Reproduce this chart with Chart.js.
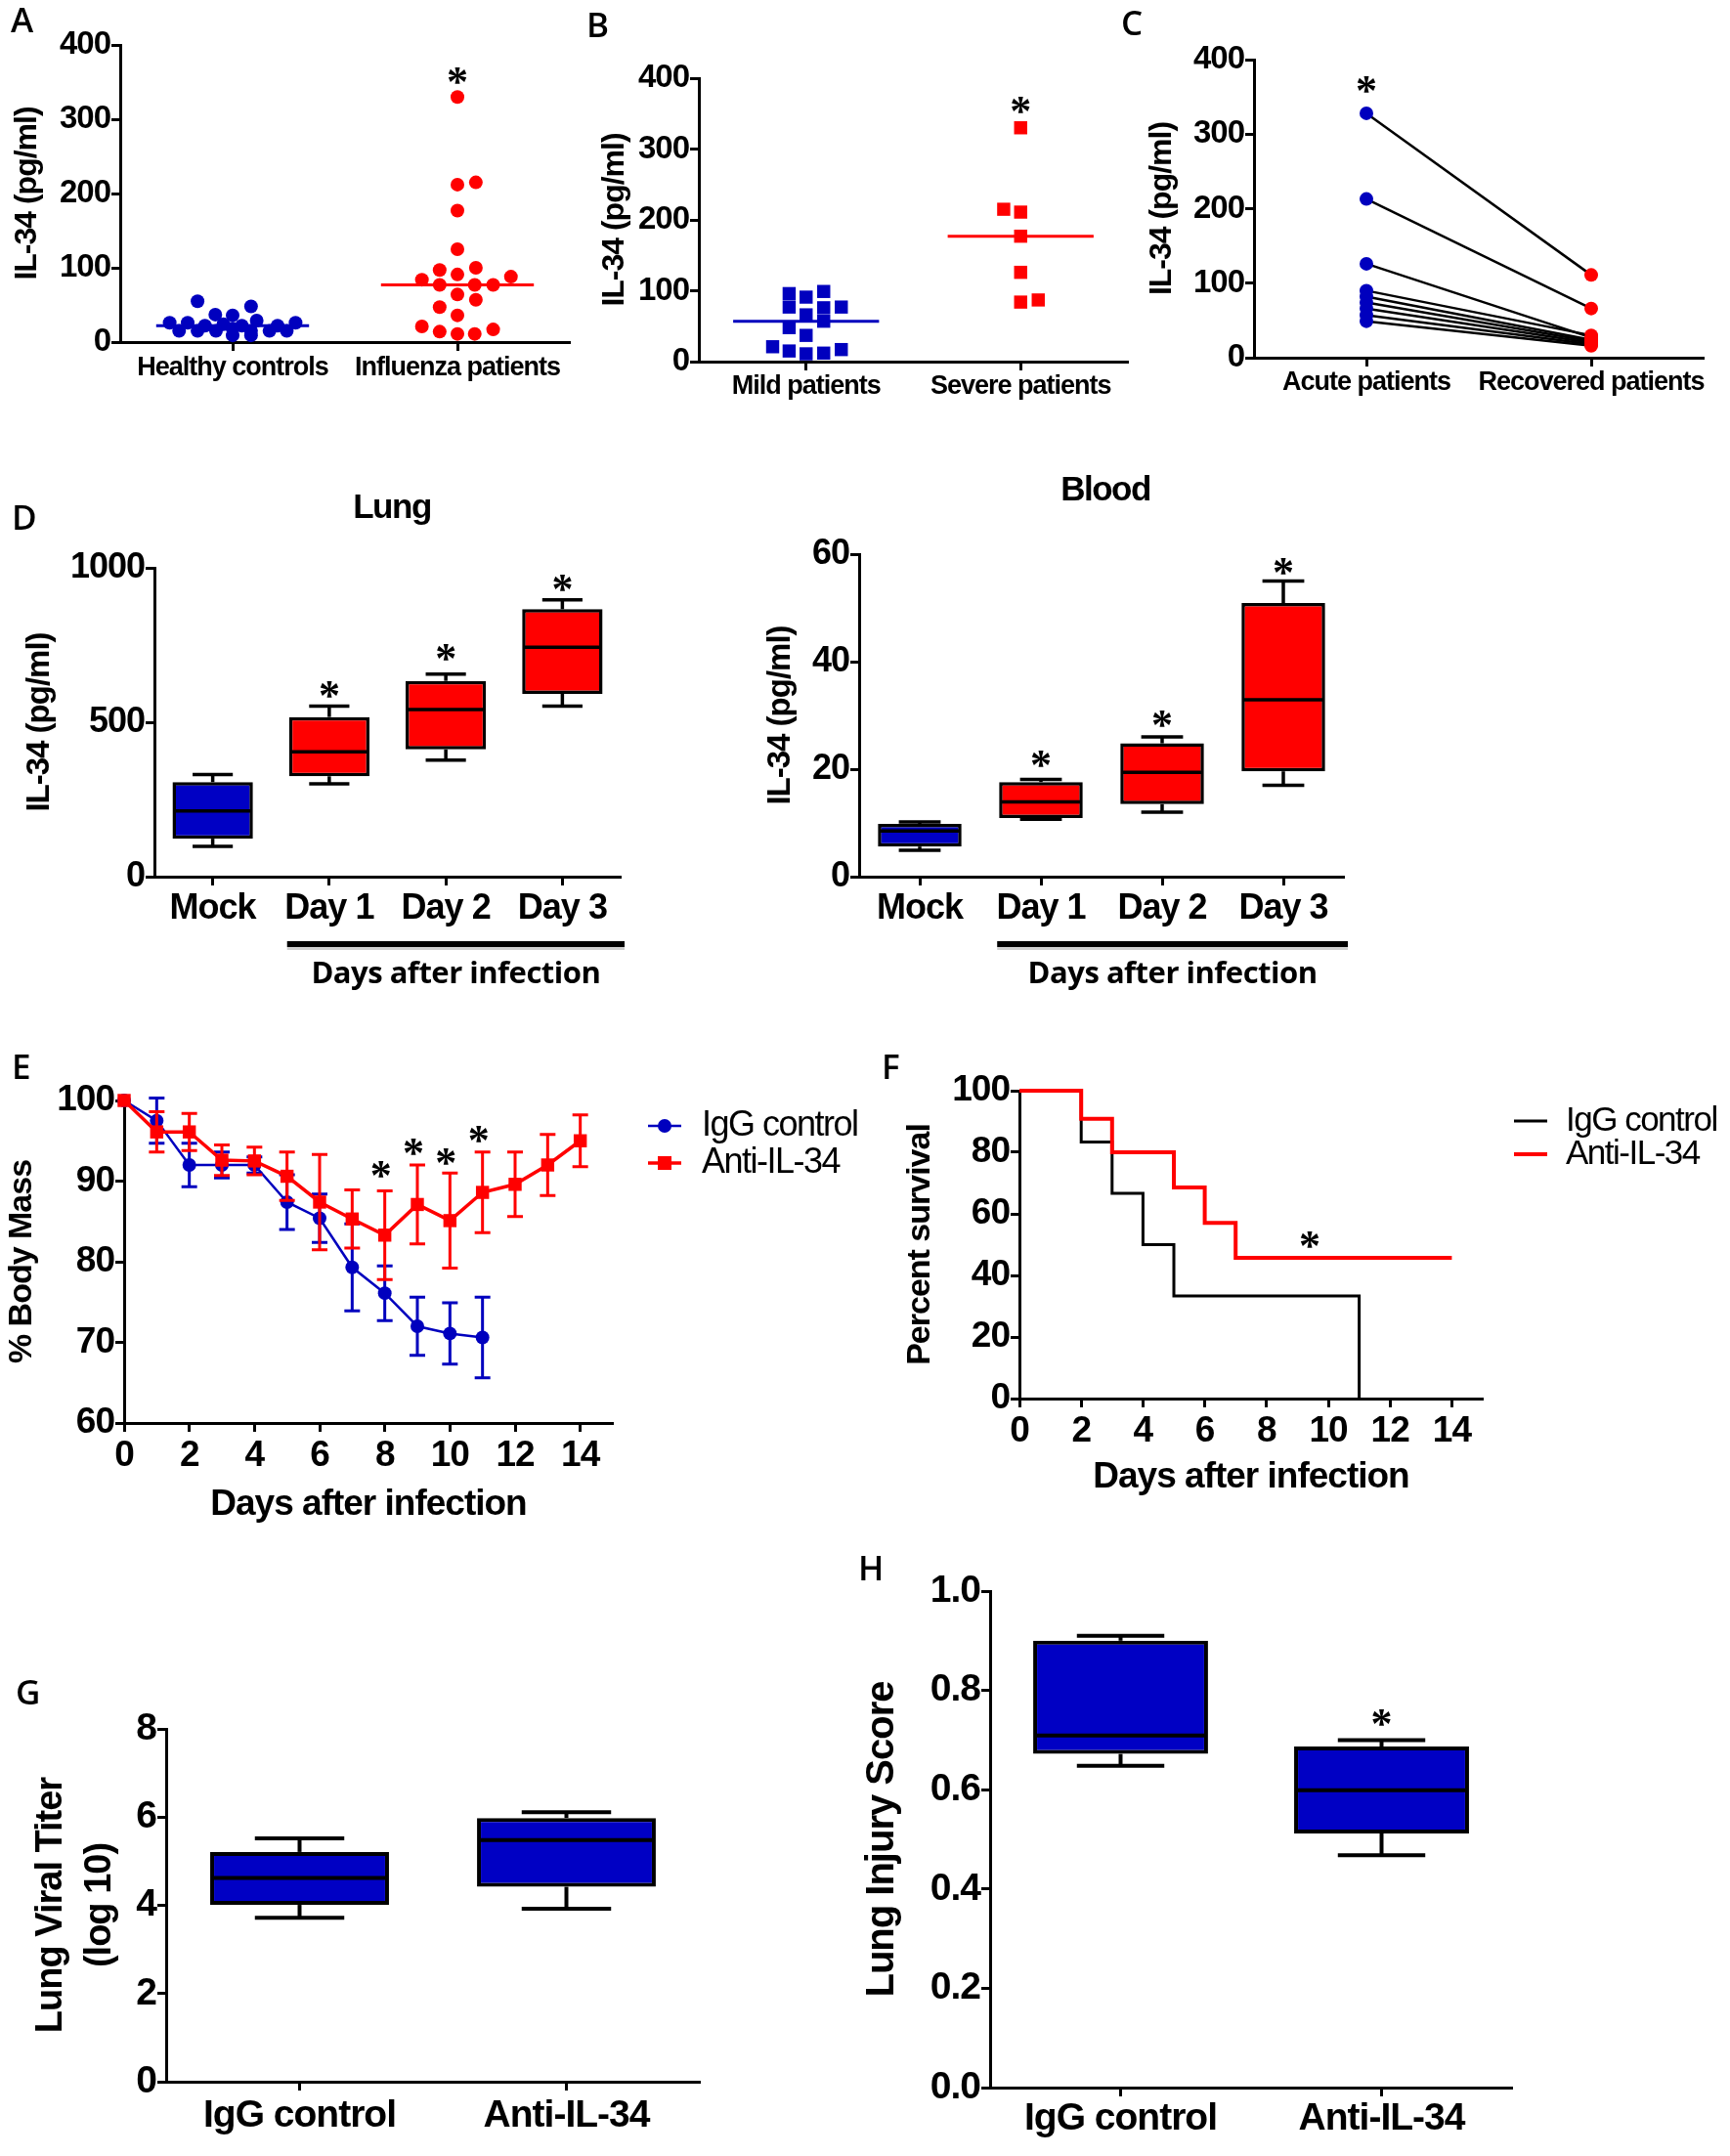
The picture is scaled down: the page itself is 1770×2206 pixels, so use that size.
<!DOCTYPE html>
<html><head><meta charset="utf-8">
<script src="https://cdn.jsdelivr.net/npm/chart.js@4.4.1/dist/chart.umd.min.js"></script>
<style>
html,body{margin:0;padding:0;background:#fff;}
body{width:1770px;height:2206px;position:relative;overflow:hidden;}
canvas{position:absolute;}
</style></head><body>
<canvas id="cA"></canvas><canvas id="cB"></canvas><canvas id="cC"></canvas>
<canvas id="cD1"></canvas><canvas id="cD2"></canvas>
<canvas id="cE"></canvas><canvas id="cF"></canvas>
<canvas id="cG"></canvas><canvas id="cH"></canvas>
<script>
// ================= DATA =================
// Panel A
const catsA = ['Healthy controls', 'Influenza patients'];
const healthyIL34 = [55, 48, 37, 36, 26, 26, 29, 26, 22, 24, 22, 22, 15, 15, 15, 18, 15, 15, 15, 9, 9];
const healthyJitter = [-0.156, 0.082, -0.077, 0, -0.28, -0.2, 0.107, 0.28, -0.123, -0.041, 0.041, 0.2, -0.238, -0.156, -0.074, 0, 0.082, 0.164, 0.241, 0, 0.082];
const influenzaIL34 = [330, 212, 215, 177, 125, 97, 91, 100, 84, 88, 77, 77, 77, 64, 57, 47, 36, 21, 14, 11, 11, 17];
const influenzaJitter = [0, 0, 0.082, 0, 0, -0.079, 0, 0.082, -0.158, 0.238, -0.079, 0.077, 0.159, 0, 0.082, -0.079, 0, -0.158, -0.079, 0, 0.077, 0.159];
const starA = [null, 358];
// Panel B
const catsB = ['Mild patients', 'Severe patients'];
const mildIL34 = [96, 91, 99, 77, 76, 77, 66, 57, 48, 37, 21, 15, 11, 12, 17];
const mildJitter = [-0.079, 0, 0.082, -0.079, 0.082, 0.164, 0, 0.082, -0.079, 0, -0.156, -0.079, 0, 0.082, 0.164];
const severeIL34 = [330, 215, 211, 177, 126, 84, 87];
const severeJitter = [0, -0.079, 0, 0, 0, 0, 0.082];
const starB = [null, 362];
// Panel C
const catsC = ['Acute patients', 'Recovered patients'];
const acuteIL34 = [328, 213, 126, 90, 82, 74, 66, 57, 49];
const recoveredIL34 = [111, 66, 27, 30, 24, 22, 20, 18, 16];
const starC = [366, null];
const ticksIL34 = [0, 100, 200, 300, 400];
// Panel D
const catsD = ['Mock', 'Day 1', 'Day 2', 'Day 3'];
const lungStats = { min: [98, 301, 377, 552], q1: [123, 325, 412, 592], med: [213, 404, 541, 743], q3: [306, 517, 634, 866], max: [331, 552, 656, 896] };
const lungStar = [null, 607, 727, 951];
const ticksLung = [0, 500, 1000];
const bloodStats = { min: [4.9, 10.7, 12.0, 17.0], q1: [5.6, 10.9, 13.5, 19.6], med: [8.5, 13.9, 19.4, 32.9], q3: [9.8, 17.6, 24.8, 50.9], max: [10.2, 18.1, 26.0, 55.0] };
const bloodStar = [null, 21.9, 29.3, 57.8];
const ticksBlood = [0, 20, 40, 60];
// Panel E
const groups = ['IgG control', 'Anti-IL-34'];
const daysIgG = [0, 1, 2, 3, 4, 5, 6, 7, 8, 9, 10, 11];
const massIgG = [100, 97.5, 92.0, 92.0, 92.0, 87.4, 85.4, 79.3, 76.1, 72.0, 71.1, 70.6];
const semIgG = [0, 2.8, 2.7, 1.6, 1.0, 3.4, 3.0, 5.4, 3.4, 3.6, 3.8, 5.0];
const daysAnti = [0, 1, 2, 3, 4, 5, 6, 7, 8, 9, 10, 11, 12, 13, 14];
const massAnti = [100, 96.1, 96.1, 92.6, 92.5, 90.6, 87.4, 85.3, 83.3, 87.1, 85.1, 88.6, 89.6, 92.0, 95.0];
const semAnti = [0, 2.5, 2.3, 1.9, 1.7, 3.0, 5.9, 3.6, 5.5, 4.9, 5.9, 5.0, 4.0, 3.8, 3.2];
const starDaysE = [8, 9, 10, 11];
const starMassE = [91.4, 94.2, 93.0, 95.8];
const ticksMass = [60, 70, 80, 90, 100];
const ticksDays = [0, 2, 4, 6, 8, 10, 12, 14];
// Panel F
const survDaysIgG = [0, 2, 3, 4, 5, 11];
const survIgG = [100, 83.3, 66.7, 50, 33.3, 0];
const survDaysAnti = [0, 2, 3, 5, 6, 7, 14];
const survAnti = [100, 90.9, 80, 68.6, 57.1, 45.7, 45.7];
const starF = { day: 9.4, pct: 51.5 };
const ticksSurv = [0, 20, 40, 60, 80, 100];
// Panel G
const titerStats = { min: [3.72, 3.92], q1: [4.01, 4.42], med: [4.62, 5.48], q3: [5.21, 5.98], max: [5.52, 6.11] };
const ticksTiter = [0, 2, 4, 6, 8];
// Panel H
const injuryStats = { min: [0.648, 0.468], q1: [0.672, 0.512], med: [0.709, 0.599], q3: [0.900, 0.687], max: [0.910, 0.700] };
const injuryStar = [null, 0.746];
const ticksInjury = [0, 0.2, 0.4, 0.6, 0.8, 1.0];

// ================= STYLE =================
const FT = "'Liberation Sans', Arial, sans-serif";
const FC = "'Open Sans', 'Liberation Sans', sans-serif";
const FS = "'Liberation Serif', serif";
const BLUE = '#0000BE', BOXBLUE = '#0000C4', RED = '#FF0000';
const MEDHALF = 0.34;
const STAR = 44;

Chart.defaults.font.family = FT;
Chart.defaults.color = '#000';

const lsPlugin = { id: 'ls',
  beforeUpdate(c) { c.ctx.letterSpacing = '-1px'; },
  beforeDraw(c) { c.ctx.letterSpacing = '-1px'; } };

function txt(ctx, s, x, y, font, align, base, ls) {
  ctx.save(); ctx.font = font; ctx.letterSpacing = ls || '0px';
  ctx.textAlign = align || 'left'; ctx.textBaseline = base || 'alphabetic';
  ctx.fillStyle = '#000'; ctx.fillText(s, x, y); ctx.restore();
}
function letter(ctx, s, x, y) { txt(ctx, s, x, y, `600 35px ${FC}`); }
function star(ctx, x, y, size) {
  ctx.save(); ctx.font = `bold ${size || STAR}px ${FS}`; ctx.letterSpacing = '0px';
  ctx.textAlign = 'center'; ctx.textBaseline = 'alphabetic';
  const m = ctx.measureText('*');
  const off = (m.actualBoundingBoxAscent - m.actualBoundingBoxDescent) / 2;
  ctx.fillStyle = '#000'; ctx.fillText('*', x, y + off); ctx.restore();
}
function median(a) { const s = [...a].sort((p, q) => p - q); const n = s.length;
  return n % 2 ? s[(n - 1) / 2] : (s[n / 2 - 1] + s[n / 2]) / 2; }

function gridOpts() {
  return { display: true, drawOnChartArea: false, drawTicks: true, tickLength: 9, tickWidth: 3, tickColor: '#000', offset: false };
}
function yLin(min, max, vals, size, fmt, title, tsize, tpad, lh) {
  return {
    type: 'linear', position: 'left', min, max,
    afterBuildTicks: s => { s.ticks = vals.map(v => ({ value: v })); },
    grid: gridOpts(), border: { display: true, color: '#000', width: 3 },
    ticks: { color: '#000', font: { family: FT, size, weight: 'bold' }, padding: 1,
      callback: v => fmt ? fmt(v) : String(v) },
    title: { display: true, text: title, color: '#000',
      font: { family: FT, size: tsize, weight: 'bold', lineHeight: lh || 1.2 }, padding: { top: tpad, bottom: 0 } }
  };
}
function xPseudo(cats, size, pad) {
  return {
    type: 'linear', position: 'bottom', min: 0, max: cats.length,
    afterBuildTicks: s => { s.ticks = cats.map((c, i) => ({ value: i + 0.5 })); },
    grid: gridOpts(), border: { display: true, color: '#000', width: 3 },
    ticks: { color: '#000', font: { family: FT, size, weight: 'bold' }, padding: pad, autoSkip: false, maxRotation: 0,
      callback: (v, i) => cats[i] }
  };
}
function xCat(size, pad) {
  return {
    type: 'category', position: 'bottom', offset: true,
    grid: gridOpts(), border: { display: true, color: '#000', width: 3 },
    ticks: { color: '#000', font: { family: FT, size, weight: 'bold' }, padding: pad, autoSkip: false, maxRotation: 0 }
  };
}
function xDays(size, pad, title, tsize, tpad) {
  return {
    type: 'linear', position: 'bottom', min: 0, max: 15,
    afterBuildTicks: s => { s.ticks = ticksDays.map(v => ({ value: v })); },
    grid: gridOpts(), border: { display: true, color: '#000', width: 3 },
    ticks: { color: '#000', font: { family: FT, size, weight: 'bold' }, padding: pad, autoSkip: false, maxRotation: 0 },
    title: { display: true, text: title, color: '#000', font: { family: FT, size: tsize, weight: 'bold' }, padding: { top: 0, bottom: tpad } }
  };
}

function makePanel(id, box, plot, type, data, scales, deco, extra) {
  const cv = document.getElementById(id);
  cv.width = box.w; cv.height = box.h;
  cv.style.left = box.x + 'px'; cv.style.top = box.y + 'px';
  cv.style.width = box.w + 'px'; cv.style.height = box.h + 'px';
  scales.x.afterFit = s => { s.height = box.y + box.h - plot.b; };
  scales.y.afterFit = s => { s.width = plot.l - box.x; };
  const X = v => v - box.x, Y = v => v - box.y;
  return new Chart(cv, {
    type, data,
    options: {
      responsive: false, animation: false, devicePixelRatio: 1,
      layout: { padding: { top: plot.t - box.y, right: box.x + box.w - plot.r, left: 0, bottom: 0 } },
      plugins: { legend: { display: false }, tooltip: { enabled: false } },
      scales
    },
    plugins: [lsPlugin, ...(extra || []), { id: 'deco', afterDraw(c) { if (deco) deco(c.ctx, c, X, Y); } }]
  });
}

function dotSet(vals, jit, ci, col, style, r) {
  return { type: 'scatter', data: vals.map((v, i) => ({ x: ci + 0.5 + jit[i], y: v })),
    pointStyle: style, pointRadius: r, backgroundColor: col, pointBorderWidth: 0, borderWidth: 0, clip: false, order: 0 };
}
function medSet(vals, ci, col) {
  const m = median(vals);
  return { type: 'line', showLine: true, data: [{ x: ci + 0.5 - MEDHALF, y: m }, { x: ci + 0.5 + MEDHALF, y: m }],
    borderColor: col, borderWidth: 3, pointRadius: 0, clip: false, order: 1 };
}
function starsOnCats(ctx, c, stars, size) {
  stars.forEach((v, i) => { if (v == null) return;
    const xs = c.scales.x;
    const px = xs.type === 'category' ? xs.getPixelForValue(i) : xs.getPixelForValue(i + 0.5);
    star(ctx, px, c.scales.y.getPixelForValue(v), size); });
}

function whiskerPlugin(st, lw) {
  return { id: 'whisk', afterDatasetsDraw(c) {
    const ctx = c.ctx, ys = c.scales.y, meta = c.getDatasetMeta(0);
    ctx.save(); ctx.strokeStyle = '#000'; ctx.lineWidth = lw; ctx.lineCap = 'butt';
    meta.data.forEach((b, i) => {
      const cx = b.x, hw = b.width / 2;
      const seg = (x0, y0, x1, y1) => { ctx.beginPath(); ctx.moveTo(x0, y0); ctx.lineTo(x1, y1); ctx.stroke(); };
      const yMed = ys.getPixelForValue(st.med[i]);
      seg(cx - hw + 1, yMed, cx + hw - 1, yMed);
      const yq3 = ys.getPixelForValue(st.q3[i]), yMax = ys.getPixelForValue(st.max[i]);
      const yq1 = ys.getPixelForValue(st.q1[i]), yMin = ys.getPixelForValue(st.min[i]);
      seg(cx, yq3, cx, yMax); seg(cx - hw / 2, yMax, cx + hw / 2, yMax);
      seg(cx, yq1, cx, yMin); seg(cx - hw / 2, yMin, cx + hw / 2, yMin);
    });
    ctx.restore();
  } };
}
function boxData(cats, colors, st, pct, lw) {
  return { labels: cats, datasets: [{ type: 'bar', data: st.q1.map((v, i) => [v, st.q3[i]]),
    backgroundColor: colors, borderColor: '#000', borderWidth: lw, borderSkipped: false,
    barPercentage: pct, categoryPercentage: 1 }] };
}

// ================= PANEL A =================
makePanel('cA', { x: 0, y: 0, w: 590, h: 420 }, { l: 123, t: 46, r: 583, b: 350 }, 'scatter', {
  datasets: [dotSet(healthyIL34, healthyJitter, 0, BLUE, 'circle', 7), dotSet(influenzaIL34, influenzaJitter, 1, RED, 'circle', 7),
    medSet(healthyIL34, 0, BLUE), medSet(influenzaIL34, 1, RED)] },
  { x: xPseudo(catsA, 27, 1), y: yLin(0, 400, ticksIL34, 33, null, 'IL-34 (pg/ml)', 32, 9) },
  (ctx, c, X, Y) => { letter(ctx, 'A', X(11), Y(33)); starsOnCats(ctx, c, starA); });

// ================= PANEL B =================
makePanel('cB', { x: 590, y: 0, w: 575, h: 420 }, { l: 715, t: 80, r: 1154, b: 370 }, 'scatter', {
  datasets: [dotSet(mildIL34, mildJitter, 0, BLUE, 'rect', 9.5), dotSet(severeIL34, severeJitter, 1, RED, 'rect', 9.5),
    medSet(mildIL34, 0, BLUE), medSet(severeIL34, 1, RED)] },
  { x: xPseudo(catsB, 27, 0), y: yLin(0, 400, ticksIL34, 33, null, 'IL-34 (pg/ml)', 32, 20) },
  (ctx, c, X, Y) => { letter(ctx, 'B', X(600), Y(38)); starsOnCats(ctx, c, starB); });

// ================= PANEL C =================
makePanel('cC', { x: 1140, y: 0, w: 630, h: 420 }, { l: 1283, t: 61, r: 1743, b: 366 }, 'line', {
  datasets: acuteIL34.map((a, i) => ({ data: [{ x: 0.5, y: a }, { x: 1.5, y: recoveredIL34[i] }],
    borderColor: '#000', borderWidth: 2.5, pointRadius: 7, pointBorderWidth: 0,
    pointBackgroundColor: [BLUE, RED], clip: false })) },
  { x: xPseudo(catsC, 27, 0), y: yLin(0, 400, ticksIL34, 33, null, 'IL-34 (pg/ml)', 32, 30) },
  (ctx, c, X, Y) => { letter(ctx, 'C', X(1147), Y(36)); starsOnCats(ctx, c, starC); });

// ================= PANEL D =================
function daysBar(ctx, c) {
  const b = c.getDatasetMeta(0).data[1];
  const x0 = b.x - b.width / 2 - 2, x1 = c.chartArea.right + 4, yb = c.chartArea.bottom + 69;
  ctx.save(); ctx.fillStyle = '#cfcfcf'; ctx.fillRect(x0, yb + 3, x1 - x0, 3);
  ctx.fillStyle = '#000'; ctx.fillRect(x0, yb - 3, x1 - x0, 6); ctx.restore();
  txt(ctx, 'Days after infection', (x0 + x1) / 2, yb + 31, `bold 31px ${FC}`, 'center', 'middle', '-0.5px');
}
makePanel('cD1', { x: 0, y: 470, w: 720, h: 580 }, { l: 158, t: 581, r: 635, b: 897 }, 'bar',
  boxData(catsD, [BOXBLUE, RED, RED, RED], lungStats, 0.69, 3.5),
  { x: xCat(36, 2), y: yLin(0, 1000, ticksLung, 36, null, 'IL-34 (pg/ml)', 33, 21) },
  (ctx, c, X, Y) => { letter(ctx, 'D', X(12), Y(542)); txt(ctx, 'Lung', X(401), Y(520), `bold 35px ${FT}`, 'center', 'middle', '-1.5px');
    starsOnCats(ctx, c, lungStar); daysBar(ctx, c); },
  [whiskerPlugin(lungStats, 3.5)]);
makePanel('cD2', { x: 720, y: 470, w: 700, h: 580 }, { l: 879, t: 567, r: 1375, b: 897 }, 'bar',
  boxData(catsD, [BOXBLUE, RED, RED, RED], bloodStats, 0.69, 3.5),
  { x: xCat(36, 2), y: yLin(0, 60, ticksBlood, 36, null, 'IL-34 (pg/ml)', 33, 59) },
  (ctx, c, X, Y) => { txt(ctx, 'Blood', X(1131), Y(502), `bold 35px ${FT}`, 'center', 'middle', '-1.5px');
    starsOnCats(ctx, c, bloodStar); daysBar(ctx, c); },
  [whiskerPlugin(bloodStats, 3.5)]);

// ================= PANEL E =================
const errPlugin = sems => ({ id: 'err', beforeDatasetDraw(c, args) {
  const sem = sems[args.index]; if (!sem) return;
  const ctx = c.ctx, ys = c.scales.y, ds = c.data.datasets[args.index];
  ctx.save(); ctx.strokeStyle = ds.borderColor; ctx.lineWidth = 3;
  args.meta.data.forEach((p, j) => { const e = sem[j]; if (!e) return; const v = ds.data[j].y;
    const yt = ys.getPixelForValue(v + e), yb = ys.getPixelForValue(v - e);
    ctx.beginPath(); ctx.moveTo(p.x, yt); ctx.lineTo(p.x, yb);
    ctx.moveTo(p.x - 8, yt); ctx.lineTo(p.x + 8, yt); ctx.moveTo(p.x - 8, yb); ctx.lineTo(p.x + 8, yb); ctx.stroke(); });
  ctx.restore(); } });
function legend(ctx, c, X, Y, x0, x1, xt, rows, size, markers) {
  c.data.datasets.forEach((ds, i) => {
    const y = Y(rows[i]);
    ctx.save(); ctx.strokeStyle = ds.borderColor; ctx.lineWidth = ds.borderWidth;
    ctx.beginPath(); ctx.moveTo(X(x0), y); ctx.lineTo(X(x1), y); ctx.stroke();
    if (markers) { ctx.fillStyle = ds.borderColor; const mx = X((x0 + x1) / 2);
      if (ds.pointStyle === 'rect') ctx.fillRect(mx - 7, y - 7, 14, 14);
      else { ctx.beginPath(); ctx.arc(mx, y, 7, 0, Math.PI * 2); ctx.fill(); } }
    ctx.restore();
    txt(ctx, ds.label, X(xt), y, `${size}px ${FT}`, 'left', 'middle', '-1.5px');
  });
}
makePanel('cE', { x: 0, y: 1070, w: 900, h: 500 }, { l: 127, t: 1126, r: 627, b: 1456 }, 'line', {
  datasets: [
    { label: groups[0], data: daysIgG.map((d, i) => ({ x: d, y: massIgG[i] })), borderColor: BLUE, backgroundColor: BLUE,
      borderWidth: 2.5, pointStyle: 'circle', pointRadius: 7, pointBorderWidth: 0, clip: false, order: 1 },
    { label: groups[1], data: daysAnti.map((d, i) => ({ x: d, y: massAnti[i] })), borderColor: RED, backgroundColor: RED,
      borderWidth: 3.5, pointStyle: 'rect', pointRadius: 9.5, pointBorderWidth: 0, clip: false, order: 0 }] },
  { x: xDays(37, 3, 'Days after infection', 37, 8), y: yLin(60, 100, ticksMass, 37, null, '% Body Mass', 34, 2) },
  (ctx, c, X, Y) => { letter(ctx, 'E', X(12), Y(1104));
    starDaysE.forEach((d, i) => star(ctx, c.scales.x.getPixelForValue(d) - 4, c.scales.y.getPixelForValue(starMassE[i])));
    legend(ctx, c, X, Y, 663, 697, 718, [1152, 1190], 36, true); },
  [errPlugin([semIgG, semAnti])]);

// ================= PANEL F =================
makePanel('cF', { x: 900, y: 1070, w: 870, h: 500 }, { l: 1043, t: 1116, r: 1517, b: 1431 }, 'line', {
  datasets: [
    { label: groups[0], data: survDaysIgG.map((d, i) => ({ x: d, y: survIgG[i] })), borderColor: '#000',
      borderWidth: 3, stepped: 'before', pointRadius: 0, clip: false, order: 1 },
    { label: groups[1], data: survDaysAnti.map((d, i) => ({ x: d, y: survAnti[i] })), borderColor: RED,
      borderWidth: 4, stepped: 'before', pointRadius: 0, clip: false, order: 0 }] },
  { x: xDays(37, 3, 'Days after infection', 37, 36), y: yLin(0, 100, ticksSurv, 37, null, 'Percent survival', 34, 21) },
  (ctx, c, X, Y) => { letter(ctx, 'F', X(902), Y(1104));
    star(ctx, c.scales.x.getPixelForValue(starF.day), c.scales.y.getPixelForValue(starF.pct));
    legend(ctx, c, X, Y, 1549, 1583, 1602, [1147, 1181], 35, false); });

// ================= PANEL G =================
makePanel('cG', { x: 0, y: 1690, w: 760, h: 516 }, { l: 170, t: 1769, r: 716, b: 2130 }, 'bar',
  boxData(groups, [BOXBLUE, BOXBLUE], titerStats, 0.67, 4),
  { x: xCat(39, 3), y: yLin(0, 8, ticksTiter, 39, null, ['Lung Viral Titer', '(log 10)'], 38, 28, 1.3) },
  (ctx, c, X, Y) => { letter(ctx, 'G', X(16), Y(1744)); },
  [whiskerPlugin(titerStats, 4)]);

// ================= PANEL H =================
makePanel('cH', { x: 845, y: 1575, w: 925, h: 631 }, { l: 1013, t: 1628, r: 1547, b: 2136 }, 'bar',
  boxData(groups, [BOXBLUE, BOXBLUE], injuryStats, 0.67, 4),
  { x: xCat(39, 0), y: yLin(0, 1, ticksInjury, 39, v => v.toFixed(1), 'Lung Injury Score', 40, 34) },
  (ctx, c, X, Y) => { letter(ctx, 'H', X(878), Y(1617)); starsOnCats(ctx, c, injuryStar); },
  [whiskerPlugin(injuryStats, 4)]);
</script></body></html>
